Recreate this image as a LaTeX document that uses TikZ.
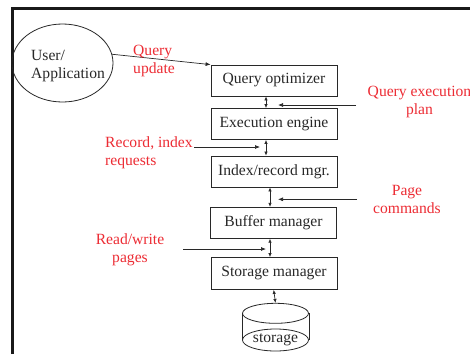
\documentclass[tikz,border=0pt]{standalone}
\usepackage{fontspec}
\setmainfont{Liberation Serif}
\usetikzlibrary{arrows.meta,shapes.geometric}
\definecolor{lbl}{RGB}{236,44,52}
\definecolor{ink}{RGB}{40,40,40}
\begin{document}
\begin{tikzpicture}[x=1pt,y=-1pt,
  every node/.style={font=\fontsize{15.6}{18}\selectfont, text=ink},
  layer/.style={draw=ink, line width=0.8pt, minimum width=126pt, minimum height=31pt, inner sep=0pt},
  note/.style={text=lbl, inner sep=0pt},
  link/.style={draw=ink, line width=0.7pt, -{Latex[length=5pt,width=4pt]}},
  pair/.style={draw=ink, line width=0.7pt, {Latex[length=4pt,width=3.5pt]}-{Latex[length=4pt,width=3.5pt]}},
  disk/.style={draw=ink, line width=0.8pt, ellipse, inner sep=0pt, minimum width=66pt}
]
\useasboundingbox (0,0) rectangle (470,354);

% frame
\draw[line width=2.6pt, black!90, line join=miter] (12.5,354) -- (12.5,8.3) -- (470,8.3);

% user
\node[draw=ink, line width=0.8pt, ellipse, minimum width=101pt, minimum height=78pt, inner sep=0pt] (user) at (62.5,63) {};
\node[align=left, anchor=west, inner sep=0pt] (userlbl) at (31,66.3) {User/\\Application};

% layers
\node[layer] (qo) at (274,80.5) {Query optimizer};
\node[layer] (ee) at (274,124) {Execution engine};
\node[layer] (ir) at (274,171.5) {Index/record mgr.};
\node[layer] (bm) at (273.5,222.8) {Buffer manager};
\node[layer, minimum height=32pt] (sm) at (274,273.5) {Storage manager};

% storage cylinder
\node[disk, minimum height=20pt] (top) at (275.5,313.3) {};
\node[disk, minimum height=22pt] (base) at (275.5,340) {storage};
\draw[ink, line width=0.8pt] (top.west) -- (base.west) (top.east) -- (base.east);

% query from the user
\draw[link] (user.10) -- (qo.north west);
\node[note, align=left, anchor=west] (qu) at (133,60.5) {Query\\update};

% links between layers
\draw[pair] ([xshift=-8pt]qo.south) -- ([xshift=-8pt]ee.north);
\draw[pair] ([xshift=-8pt]ee.south) -- ([xshift=-8pt]ir.north);
\draw[pair] ([xshift=-4pt]ir.south) -- ([xshift=-3.5pt]bm.north);
\draw[pair] ([xshift=-3.5pt]bm.south) -- ([xshift=-4pt]sm.north);
\draw[pair] ([xshift=-0.3pt]sm.south) -- (top.north);

% side inputs
\coordinate (qeFrom) at (356,105);
\coordinate (qeTo) at (278,105);
\draw[link] (qeFrom) -- (qeTo);
\node[note, align=center] (qelbl) at (419.5,102.4) {Query execution\\plan};

\coordinate (riFrom) at (194,147);
\coordinate (riTo) at (260,147);
\draw[link] (riFrom) -- (riTo);
\node[note, align=left, anchor=west] (rilbl) at (105,152.5) {Record, index\\requests};

\coordinate (pcFrom) at (357,199.3);
\coordinate (pcTo) at (278,199.3);
\draw[link] (pcFrom) -- (pcTo);
\node[note, align=center] (pclbl) at (407,199) {Page\\commands};

\coordinate (rwFrom) at (183,249);
\coordinate (rwTo) at (266,249);
\draw[link] (rwFrom) -- (rwTo);
\node[note, align=center] (rwlbl) at (130,249.3) {Read/write\\pages};
\end{tikzpicture}
\end{document}
